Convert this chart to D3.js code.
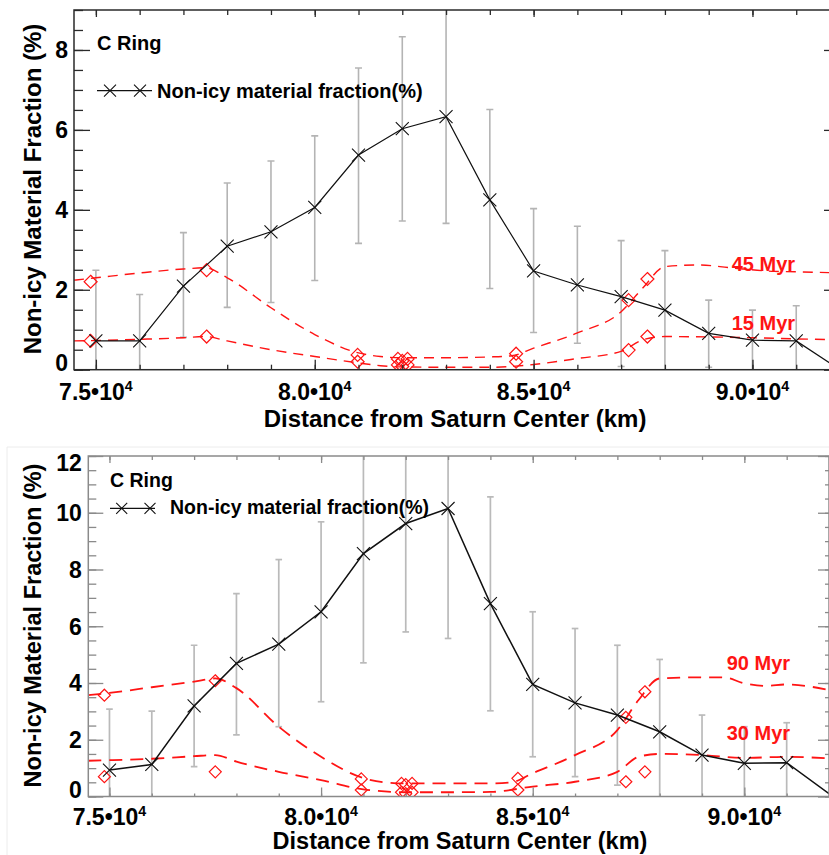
<!DOCTYPE html>
<html><head><meta charset="utf-8">
<script src="https://cdn.jsdelivr.net/npm/d3@7"></script>
<style>
body{margin:0;background:#fff}
svg{display:block}
text{font-family:"Liberation Sans",Arial,Helvetica,sans-serif;font-weight:bold}
</style>
</head><body>
<svg id="c" width="829" height="855"></svg>
<script>
// ---------------- DATA ----------------
const distances = [75000,76000,77000,78000,79000,80000,81000,82000,83000,84000,85000,86000,87000,88000,89000,90000,91000,92000];

// Top panel (15 / 45 Myr)
const topFraction = [0.72,0.72,2.09,3.09,3.45,4.06,5.37,6.03,6.33,4.25,2.47,2.12,1.83,1.49,0.91,0.74,0.72,0.0];
const topErrLow  = [-1.05,-0.44,0.81,1.56,1.68,2.23,3.16,3.72,3.66,2.03,0.93,0.66,0.08,-0.5,0.06,-0.3,-0.3];
const topErrHigh = [2.49,1.88,3.43,4.67,5.22,5.85,7.55,8.33,9.6,6.51,4.03,3.59,3.23,2.98,1.74,1.49,1.6];

const topModelHighX = [74.5,75,76,77,77.5,78,79,80,81,81.5,82,83,84,84.5,85,86,87,87.5,88,88.8,89.5,90.5,91,92];
const topModelHighY = [2.24,2.3,2.42,2.52,2.55,2.3,1.55,0.88,0.42,0.33,0.3,0.3,0.32,0.35,0.54,0.92,1.45,2.05,2.58,2.62,2.55,2.46,2.45,2.42];
const topModelLowX  = [74.5,75,76,77,77.5,78,79,80,81,81.5,82,83,84,85,86,87,87.5,88,89,90,91,92];
const topModelLowY  = [0.72,0.73,0.76,0.8,0.83,0.72,0.5,0.33,0.17,0.1,0.07,0.06,0.06,0.13,0.28,0.46,0.75,0.83,0.82,0.8,0.77,0.75];

const topDiamondX     = [74.88,77.53,80.98,81.9,82.0,82.12,84.6,87.17,87.6];
const topDiamondHighY = [2.2,2.49,0.37,0.27,0.22,0.27,0.4,1.74,2.27];
const topDiamondLowY  = [0.72,0.83,0.2,0.12,0.08,0.12,0.2,0.49,0.83];
const topModelLabels  = ["45 Myr","15 Myr"];

// Bottom panel (30 / 90 Myr)
const botFraction = [0.93,1.13,3.19,4.69,5.37,6.51,8.56,9.62,10.15,6.80,3.95,3.30,2.87,2.28,1.46,1.17,1.19,0.1];
const botErrLow  = [-1.2,-0.8,1.05,2.17,2.46,3.34,4.71,5.8,5.57,3.02,1.4,0.7,0.4,-0.3,-0.3,-0.3,-0.3];
const botErrHigh = [3.08,3.01,5.33,7.15,8.35,9.68,12.5,13.4,14.7,10.56,6.51,5.92,5.33,4.83,2.87,2.46,2.6];

const botModelHighX = [74.5,75,76,77,77.5,78,79,80,81,81.5,82,83,84,84.5,85,86,87,87.5,88,89,89.5,90,90.5,91,92];
const botModelHighY = [3.57,3.65,3.85,4.05,4.16,3.82,2.46,1.4,0.65,0.5,0.46,0.46,0.46,0.5,0.82,1.46,2.34,3.4,4.16,4.2,4.2,3.99,3.9,3.95,3.75];
const botModelLowX  = [74.5,75,76,77,77.5,78,79,80,81,81.5,82,83,84,85,86,87,87.5,88,89,90,91,92];
const botModelLowY  = [1.26,1.28,1.33,1.42,1.46,1.23,0.87,0.58,0.25,0.18,0.15,0.15,0.16,0.35,0.52,0.87,1.4,1.5,1.46,1.36,1.4,1.34];

const botDiamondX     = [74.88,77.5,80.95,81.9,82.0,82.15,84.65,87.2,87.65];
const botDiamondHighY = [3.57,4.08,0.62,0.46,0.42,0.46,0.64,2.79,3.69];
const botDiamondLowY  = [0.7,0.87,0.23,0.15,0.1,0.15,0.23,0.52,0.87];
const botModelLabels  = ["90 Myr","30 Myr"];

// Axes
const xDomain = [74500, 92000];
const xMajorTicks = [75000,80000,85000,90000];
const xTickMantissa = ["7.5","8.0","8.5","9.0"];
const xTickExponent = "4";
const xTitle = "Distance from Saturn Center (km)";
const yTitle = "Non-icy Material Fraction (%)";
const panelTitle = "C Ring";
const legendLabel = "Non-icy material fraction(%)";

// ---------------- DRAW ----------------
const svg = d3.select("#c");

function xMark(s){ return `M${-s},${-s}L${s},${s}M${-s},${s}L${s},${-s}`; }
function diamond(s){ return `M0,${-s}L${s},0L0,${s}L${-s},0Z`; }

function drawPanel(p){
  const g = svg.append("g");
  const x = d3.scaleLinear().domain(xDomain).range([p.left, p.right]);
  const y = d3.scaleLinear().domain([0, p.ymax]).range([p.bottom, p.top]);
  const clipId = "clip" + p.id;
  g.append("clipPath").attr("id", clipId).append("rect")
    .attr("x", p.left).attr("y", p.top)
    .attr("width", p.right - p.left).attr("height", p.bottom - p.top);
  const plot = g.append("g").attr("clip-path", `url(#${clipId})`);

  // error bars
  const eb = plot.append("g").attr("stroke", p.errColor).attr("stroke-width", p.errWidth).attr("fill","none");
  p.errLow.forEach((lo, i) => {
    const hi = p.errHigh[i], xv = x(distances[i]);
    eb.append("line").attr("x1", xv).attr("x2", xv).attr("y1", y(lo)).attr("y2", y(hi));
    [lo, hi].forEach(v => {
      eb.append("line").attr("x1", xv - p.capW).attr("x2", xv + p.capW).attr("y1", y(v)).attr("y2", y(v));
    });
  });

  // model curves
  const line = d3.line().x(d => x(d[0]*1000)).y(d => y(d[1])).curve(d3.curveMonotoneX);
  [[p.mHX, p.mHY],[p.mLX, p.mLY]].forEach(([xs, ys]) => {
    plot.append("path").datum(xs.map((v,i)=>[v, ys[i]]))
      .attr("d", line).attr("fill","none").attr("stroke", "#ff1414")
      .attr("stroke-width", p.redWidth).attr("stroke-dasharray", p.dash);
  });
  // diamonds
  [p.dHY, p.dLY].forEach(ys => {
    plot.append("g").selectAll("path").data(p.dX.map((v,i)=>[v, ys[i]])).join("path")
      .attr("d", diamond(p.diaS))
      .attr("transform", d => `translate(${x(d[0]*1000)},${y(d[1])})`)
      .attr("fill","none").attr("stroke","#ff1414").attr("stroke-width", 1.2);
  });

  // black data line
  const dl = d3.line().x((d,i) => x(distances[i])).y(d => y(d));
  plot.append("path").datum(p.frac).attr("d", dl).attr("fill","none")
    .attr("stroke","#111").attr("stroke-width", p.blackWidth);
  plot.append("g").selectAll("path").data(p.frac.slice(0, p.errLow.length)).join("path")
    .attr("d", xMark(p.xS))
    .attr("transform", (d,i) => `translate(${x(distances[i])},${y(d)})`)
    .attr("stroke","#111").attr("stroke-width", 1.1).attr("fill","none");

  // axes (inward ticks, major + minor)
  const minorX = d3.range(75000, 92001, 1000);
  const minorY = d3.range(0, p.ymax + 0.001, 0.5);
  const majorY = d3.range(0, p.ymax + 0.001, 2);
  const ax = g.append("g").attr("class","axes");
  function addAxis(gen, tr, vals, size){
    const a = ax.append("g").attr("transform", tr)
      .call(gen.tickValues(vals).tickSize(-size).tickFormat(""));
    a.select(".domain").remove();
    a.selectAll("line").attr("stroke", p.frameColor).attr("stroke-width", 1.3);
  }
  addAxis(d3.axisBottom(x), `translate(0,${p.bottom})`, minorX, p.tk.bMin);
  addAxis(d3.axisBottom(x), `translate(0,${p.bottom})`, xMajorTicks, p.tk.bMaj);
  addAxis(d3.axisTop(x), `translate(0,${p.top})`, minorX, p.tk.tMin);
  addAxis(d3.axisTop(x), `translate(0,${p.top})`, xMajorTicks, p.tk.tMaj);
  addAxis(d3.axisLeft(y), `translate(${p.left},0)`, minorY, p.tk.lMin);
  addAxis(d3.axisLeft(y), `translate(${p.left},0)`, majorY, p.tk.lMaj);
  addAxis(d3.axisRight(y), `translate(${p.right},0)`, minorY, p.tk.rMin);
  addAxis(d3.axisRight(y), `translate(${p.right},0)`, majorY, p.tk.rMaj);
  g.append("rect").attr("x", p.left).attr("y", p.top)
    .attr("width", p.right - p.left).attr("height", p.bottom - p.top)
    .attr("fill","none").attr("stroke", p.frameColor).attr("stroke-width", p.frameWidth);

  // y tick labels
  g.append("g").selectAll("text").data(majorY).join("text")
    .attr("x", p.left - p.ylabGap)
    .attr("y", d => Math.min(Math.max(y(d), p.top + 7), p.bottom - 7))
    .attr("dy", "0.36em").attr("text-anchor","end")
    .attr("font-size", p.tickFont).attr("fill","#000").text(d => d);

  // x tick labels
  const xl = g.append("g").selectAll("text").data(xMajorTicks).join("text")
    .attr("x", d => x(d)).attr("y", p.xlabY).attr("text-anchor","middle")
    .attr("font-size", p.tickFont).attr("fill","#000");
  xl.append("tspan").text((d,i) => xTickMantissa[i] + "\u202210");
  xl.append("tspan").attr("dy", -p.tickFont*0.4).attr("font-size", p.tickFont*0.62).text(xTickExponent);

  // titles
  g.append("text").attr("x", p.xTitleX).attr("y", p.xTitleY).attr("text-anchor","middle")
    .attr("font-size", p.titleFont).attr("fill","#000").text(xTitle);
  g.append("text").attr("transform", `translate(${p.yTitleX},${p.yTitleY}) rotate(-90)`)
    .attr("text-anchor","middle").attr("font-size", p.titleFont).attr("fill","#000").text(yTitle);

  // annotation
  g.append("text").attr("x", p.ringX).attr("y", p.ringY).attr("font-size", p.legFont).attr("fill","#000").text(panelTitle);
  g.append("line").attr("x1", p.legX1).attr("x2", p.legX2).attr("y1", p.legY).attr("y2", p.legY)
    .attr("stroke","#111").attr("stroke-width", 1.2);
  [p.legM1, p.legM2].forEach(mx => {
    g.append("path").attr("d", xMark(p.legMS)).attr("transform", `translate(${mx},${p.legY})`)
      .attr("stroke","#111").attr("stroke-width",1.1).attr("fill","none");
  });
  g.append("text").attr("x", p.legTX).attr("y", p.legTY).attr("font-size", p.legFont).attr("fill","#000").text(legendLabel);

  // model labels
  p.modelLabels.forEach((t,i) => {
    g.append("text").attr("x", p.mlX).attr("y", p.mlY[i]).attr("font-size", 20).attr("fill","#ff1414").text(t);
  });
}

// faint image border of lower figure
svg.append("path").attr("d","M7,855V447H829").attr("fill","none").attr("stroke","#ececec").attr("stroke-width",1);

drawPanel({
  id:"top", left:74, right:840, top:10, bottom:369.7, ymax:9,
  frac: topFraction, errLow: topErrLow, errHigh: topErrHigh,
  mHX: topModelHighX, mHY: topModelHighY, mLX: topModelLowX, mLY: topModelLowY,
  dX: topDiamondX, dHY: topDiamondHighY, dLY: topDiamondLowY, modelLabels: topModelLabels,
  errColor:"#b4b4b4", errWidth:1.6, capW:3.5, redWidth:1.4, dash:"10,7", diaS:6.5,
  blackWidth:1.2, xS:6.5, frameColor:"#2a2a2a", frameWidth:1.5,
  tk:{bMin:5,bMaj:10,tMin:5,tMaj:7,lMin:9,lMaj:16,rMin:9,rMaj:16},
  ylabGap:6, tickFont:23, xlabY:400, titleFont:24, xTitleX:455, xTitleY:427, yTitleX:41, yTitleY:189,
  ringX:97, ringY:50, legFont:20, legX1:97, legX2:152, legY:90.7, legM1:110, legM2:140, legMS:6,
  legTX:157, legTY:97.5, mlX:731.7, mlY:[270.5,330]
});

drawPanel({
  id:"bot", left:88.3, right:829, top:456, bottom:796.5, ymax:12,
  frac: botFraction, errLow: botErrLow, errHigh: botErrHigh,
  mHX: botModelHighX, mHY: botModelHighY, mLX: botModelLowX, mLY: botModelLowY,
  dX: botDiamondX, dHY: botDiamondHighY, dLY: botDiamondLowY, modelLabels: botModelLabels,
  errColor:"#bababa", errWidth:1.7, capW:3.3, redWidth:1.8, dash:"13,8", diaS:6,
  blackWidth:1.5, xS:6.5, frameColor:"#8a8a8a", frameWidth:1.5,
  tk:{bMin:3,bMaj:9,tMin:4,tMaj:7,lMin:8,lMaj:15,rMin:4,rMaj:11},
  ylabGap:6.5, tickFont:23, xlabY:825, titleFont:23.5, xTitleX:460, xTitleY:849, yTitleX:41, yTitleY:625.5,
  ringX:110, ringY:487, legFont:19.5, legX1:110, legX2:155, legY:508.3, legM1:121.7, legM2:150, legMS:5.5,
  legTX:170, legTY:514, mlX:726.7, mlY:[670,740]
});
</script>
</body></html>
